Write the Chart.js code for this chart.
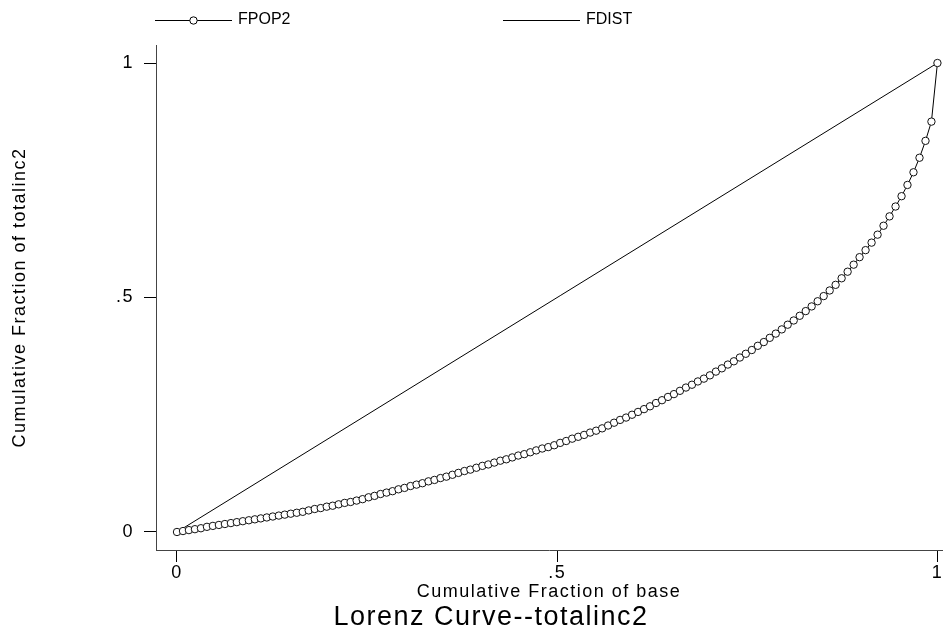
<!DOCTYPE html>
<html>
<head>
<meta charset="utf-8">
<title>Lorenz Curve--totalinc2</title>
<script src="https://cdn.jsdelivr.net/npm/chart.js@4.4.1/dist/chart.umd.min.js"></script>
<style>
  html, body { margin: 0; padding: 0; background: #fff; }
  #lorenz { display: block; }
</style>
</head>
<body>
<canvas id="lorenz" width="947" height="638"></canvas>
<script>
// =============================
// DATA
// =============================
const popShare = [
  0, .0079, .0157, .0236, .0315, .0394, .0472, .0551, .0630, .0709,
  .0787, .0866, .0945, .1024, .1102, .1181, .1260, .1339, .1417, .1496,
  .1575, .1654, .1732, .1811, .1890, .1969, .2047, .2126, .2205, .2283,
  .2362, .2441, .2520, .2598, .2677, .2756, .2835, .2913, .2992, .3071,
  .3150, .3228, .3307, .3386, .3465, .3543, .3622, .3701, .3780, .3858,
  .3937, .4016, .4094, .4173, .4252, .4331, .4409, .4488, .4567, .4646,
  .4724, .4803, .4882, .4961, .5039, .5118, .5197, .5276, .5354, .5433,
  .5512, .5591, .5669, .5748, .5827, .5906, .5984, .6063, .6142, .6220,
  .6299, .6378, .6457, .6535, .6614, .6693, .6772, .6850, .6929, .7008,
  .7087, .7165, .7244, .7323, .7402, .7480, .7559, .7638, .7717, .7795,
  .7874, .7953, .8031, .8110, .8189, .8268, .8346, .8425, .8504, .8583,
  .8661, .8740, .8819, .8898, .8976, .9055, .9134, .9213, .9291, .9370,
  .9449, .9528, .9606, .9685, .9764, .9843, .9921, 1
];
const incShare = [
  0, .002, .004, .006, .008, .011, .013, .015, .017, .019,
  .021, .023, .025, .027, .029, .031, .033, .035, .037, .039,
  .041, .043, .046, .049, .051, .054, .056, .059, .062, .064,
  .067, .070, .074, .077, .081, .084, .087, .091, .094, .098,
  .101, .104, .108, .111, .115, .118, .122, .126, .130, .133,
  .137, .141, .144, .148, .152, .155, .159, .163, .166, .170,
  .174, .178, .181, .185, .190, .194, .199, .203, .207, .212,
  .216, .221, .227, .233, .239, .244, .250, .256, .262, .268,
  .275, .281, .288, .294, .301, .308, .314, .321, .327, .334,
  .342, .349, .357, .364, .372, .380, .388, .397, .405, .414,
  .423, .432, .442, .451, .461, .471, .481, .492, .503, .515,
  .527, .541, .555, .570, .586, .601, .617, .634, .653, .673,
  .694, .716, .740, .767, .798, .834, .875, 1
];
const equalX = [.0079, 1];
const equalY = [.0079, 1];

const seriesNames = ["FPOP2", "FDIST"];
const xTickValues = [0, .5, 1];
const xTickLabels = ["0", ".5", "1"];
const yTickValues = [0, .5, 1];
const yTickLabels = ["0", ".5", "1"];

// =============================
// PLUGINS
// =============================
// Stata text is spaced out a little more than plain Helvetica
const spacingPlugin = {
    id: "stataSpacing",
    beforeUpdate(chart) { chart.ctx.letterSpacing = "1.5px"; },
    beforeDraw(chart) { chart.ctx.letterSpacing = "1.5px"; }
};

// two column legend above the plot, line sample + marker
const legendPlugin = {
    id: "stataLegend",
    afterDraw(chart) {
        const ctx = chart.ctx;
        const left = chart.chartArea.left - 1;
        const y = 20;
        const sample = 77;
        const colWidth = 348;

        ctx.save();
        ctx.letterSpacing = "0px";
        ctx.font = "16px 'Liberation Sans', Arial, sans-serif";
        ctx.textBaseline = "middle";
        ctx.fillStyle = "#000";

        chart.data.datasets.forEach((ds, i) => {
            const x = left + i * colWidth;
            ctx.strokeStyle = "#000";
            ctx.lineWidth = 1;
            ctx.beginPath();
            ctx.moveTo(x, y + 0.5);
            ctx.lineTo(x + sample, y + 0.5);
            ctx.stroke();

            if (ds.pointRadius > 0) {
                ctx.beginPath();
                ctx.arc(x + sample / 2, y + 0.5, ds.pointRadius, 0, Math.PI * 2);
                ctx.fillStyle = "#fff";
                ctx.fill();
                ctx.stroke();
                ctx.fillStyle = "#000";
            }
            ctx.fillText(ds.label, x + sample + 6, y);
        });
        ctx.restore();
    }
};

// =============================
// CHART
// =============================
Chart.defaults.font.family = "'Liberation Sans', Arial, sans-serif";
Chart.defaults.color = "#000";

const lorenzPoints = popShare.map((x, i) => ({ x, y: incShare[i] }));
const equalPoints = equalX.map((x, i) => ({ x, y: equalY[i] }));

new Chart(document.getElementById("lorenz"), {
    type: "scatter",
    data: {
        datasets: [
            {
                label: seriesNames[0],
                data: lorenzPoints,
                showLine: true,
                borderColor: "#000",
                borderWidth: 1,
                pointRadius: 3.7,
                pointBorderWidth: 1,
                pointBorderColor: "#111",
                pointBackgroundColor: "#fff",
                tension: 0
            },
            {
                label: seriesNames[1],
                data: equalPoints,
                showLine: true,
                borderColor: "#000",
                borderWidth: 1,
                pointRadius: 0,
                tension: 0
            }
        ]
    },
    options: {
        responsive: false,
        devicePixelRatio: 1,
        animation: false,
        layout: { padding: { top: 45, right: -35, bottom: 0, left: 0 } },
        plugins: {
            legend: { display: false },
            tooltip: { enabled: false },
            title: {
                display: true,
                position: "bottom",
                text: "Lorenz Curve--totalinc2",
                color: "#000",
                font: { size: 27, weight: "normal", lineHeight: 1 },
                padding: { top: 0, bottom: 7 }
            }
        },
        scales: {
            x: {
                type: "linear",
                min: -0.0276,
                max: 1.006,
                afterBuildTicks: s => { s.ticks = xTickValues.map(v => ({ value: v })); },
                afterFit: s => {
                    s.height = 54;
                    s.paddingLeft = -40;
                    s.paddingRight = -40;
                },
                ticks: {
                    callback: v => xTickLabels[xTickValues.indexOf(v)],
                    font: { size: 18 },
                    color: "#000",
                    padding: 0,
                    maxRotation: 0
                },
                grid: { drawOnChartArea: false, tickLength: 12, tickColor: "#000" },
                border: { display: true, color: "#444", width: 1 },
                title: {
                    display: true,
                    text: "Cumulative Fraction of base",
                    color: "#000",
                    font: { size: 18 },
                    padding: { top: 0, bottom: 1 }
                }
            },
            y: {
                type: "linear",
                min: -0.0384,
                max: 1.0384,
                afterBuildTicks: s => { s.ticks = yTickValues.map(v => ({ value: v })); },
                afterFit: s => { s.width = 156; },
                ticks: {
                    callback: v => yTickLabels[yTickValues.indexOf(v)],
                    font: { size: 18 },
                    color: "#000",
                    padding: 10
                },
                grid: { drawOnChartArea: false, tickLength: 12, tickColor: "#000" },
                border: { display: true, color: "#444", width: 1 },
                title: {
                    display: true,
                    text: "Cumulative Fraction of totalinc2",
                    color: "#000",
                    font: { size: 18 },
                    padding: { top: 9, bottom: 0 }
                }
            },
            yRight: {
                position: "right",
                display: true,
                afterFit: s => { s.width = 24; },
                grid: { display: false, drawTicks: false },
                border: { display: false },
                ticks: { display: false }
            }
        }
    },
    plugins: [spacingPlugin, legendPlugin]
});
</script>
</body>
</html>
